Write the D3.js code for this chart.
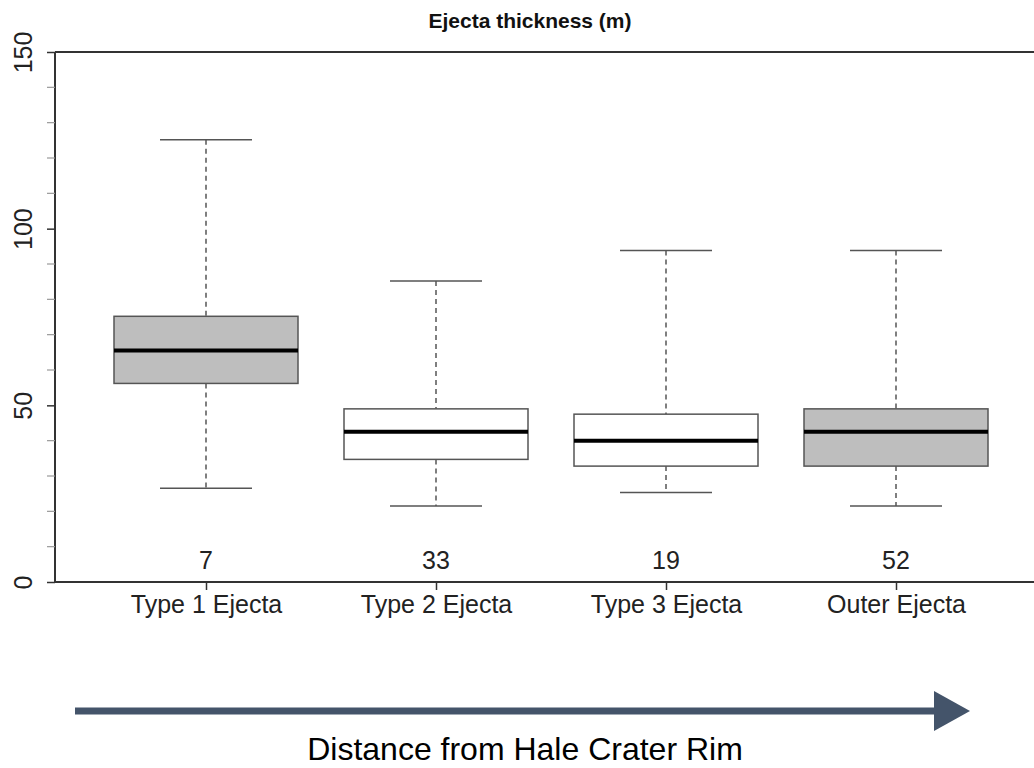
<!DOCTYPE html>
<html><head><meta charset="utf-8">
<script src="https://cdn.jsdelivr.net/npm/d3@7"></script>
<style>body{margin:0;background:#fff}svg{display:block}</style>
</head><body><svg id="c" width="1034" height="768"></svg>
<script>
const categories = ["Type 1 Ejecta","Type 2 Ejecta","Type 3 Ejecta","Outer Ejecta"];
const whiskerLow = [26.5, 21.5, 25.3, 21.5];
const q1 = [56.2, 34.7, 32.8, 32.8];
const median = [65.5, 42.5, 40.0, 42.5];
const q3 = [75.2, 49.0, 47.5, 49.0];
const whiskerHigh = [125.2, 85.2, 93.8, 93.8];
const counts = [7, 33, 19, 52];
const fills = ["#bebebe","#ffffff","#ffffff","#bebebe"];
const yTicks = [0, 50, 100, 150];
const yMinor = [10,20,30,40,60,70,80,90,110,120,130,140];
const title = "Ejecta thickness (m)";
const arrowLabel = "Distance from Hale Crater Rim";

const svg = d3.select("#c");
const L = 55, R = 1034, T = 52, B = 582;
const y = d3.scaleLinear().domain([0,150]).range([B,T]);
const x = d3.scalePoint().domain(categories).range([206, 896]);
const bw = 184;
const font = "'Liberation Sans', Arial, sans-serif";

// title
svg.append("text").attr("x",530).attr("y",28).attr("text-anchor","middle")
  .attr("font-family",font).attr("font-weight","bold").attr("font-size",21).attr("fill","#111").text(title);

// frame lines
svg.append("line").attr("x1",L).attr("x2",R).attr("y1",T).attr("y2",T).attr("stroke","#333").attr("stroke-width",2);

// y axis
const yAxis = svg.append("g").attr("transform",`translate(${L},0)`)
  .call(d3.axisLeft(y).tickValues(yTicks).tickSize(8).tickPadding(0).tickFormat(d3.format("d")));
yAxis.select(".domain").attr("stroke","#333").attr("stroke-width",2).attr("d",`M0,${B}V${T}`);
yAxis.selectAll(".tick line").attr("stroke","#333").attr("stroke-width",1.5);
yAxis.selectAll(".tick text").attr("font-family",font).attr("font-size",25).attr("fill","#222")
  .attr("transform","rotate(-90)").attr("x",0).attr("y",-23).attr("dy","0").attr("text-anchor","middle");
svg.append("g").attr("transform",`translate(${L},0)`).selectAll("line").data(yMinor).join("line")
  .attr("x1",-8).attr("x2",0).attr("y1",d=>y(d)).attr("y2",d=>y(d)).attr("stroke","#999").attr("stroke-width",1.2);

// x axis
const xAxis = svg.append("g").attr("transform",`translate(0,${B})`)
  .call(d3.axisBottom(x).tickSize(8).tickPadding(5));
xAxis.select(".domain").attr("stroke","#333").attr("stroke-width",2).attr("d",`M${L},0H${R}`);
xAxis.selectAll(".tick line").attr("stroke","#333").attr("stroke-width",1.5);
xAxis.selectAll(".tick text").attr("font-family",font).attr("font-size",25).attr("fill","#222");

// boxes
const data = categories.map((c,i)=>({c,lo:whiskerLow[i],q1:q1[i],md:median[i],q3:q3[i],hi:whiskerHigh[i],n:counts[i],f:fills[i]}));
const g = svg.append("g").selectAll("g").data(data).join("g");
g.append("line").attr("x1",d=>x(d.c)).attr("x2",d=>x(d.c)).attr("y1",d=>y(d.hi)).attr("y2",d=>y(d.q3))
  .attr("stroke","#555").attr("stroke-width",1.5).attr("stroke-dasharray","5,4");
g.append("line").attr("x1",d=>x(d.c)).attr("x2",d=>x(d.c)).attr("y1",d=>y(d.q1)).attr("y2",d=>y(d.lo))
  .attr("stroke","#555").attr("stroke-width",1.5).attr("stroke-dasharray","5,4");
g.append("line").attr("x1",d=>x(d.c)-bw/4).attr("x2",d=>x(d.c)+bw/4).attr("y1",d=>y(d.hi)).attr("y2",d=>y(d.hi))
  .attr("stroke","#555").attr("stroke-width",1.5);
g.append("line").attr("x1",d=>x(d.c)-bw/4).attr("x2",d=>x(d.c)+bw/4).attr("y1",d=>y(d.lo)).attr("y2",d=>y(d.lo))
  .attr("stroke","#555").attr("stroke-width",1.5);
g.append("rect").attr("x",d=>x(d.c)-bw/2).attr("width",bw).attr("y",d=>y(d.q3)).attr("height",d=>y(d.q1)-y(d.q3))
  .attr("fill",d=>d.f).attr("stroke","#555").attr("stroke-width",1.5);
g.append("line").attr("x1",d=>x(d.c)-bw/2).attr("x2",d=>x(d.c)+bw/2).attr("y1",d=>y(d.md)).attr("y2",d=>y(d.md))
  .attr("stroke","#000").attr("stroke-width",4);
g.append("text").attr("x",d=>x(d.c)).attr("y",569).attr("text-anchor","middle")
  .attr("font-family",font).attr("font-size",25).attr("fill","#222").text(d=>d.n);

// arrow
svg.append("line").attr("x1",75).attr("x2",938).attr("y1",711).attr("y2",711).attr("stroke","#44546a").attr("stroke-width",7);
svg.append("path").attr("d","M934,691L970,711L934,731Z").attr("fill","#44546a");
svg.append("text").attr("x",525).attr("y",760).attr("text-anchor","middle")
  .attr("font-family",font).attr("font-size",32).attr("fill","#000").text(arrowLabel);
</script></body></html>
